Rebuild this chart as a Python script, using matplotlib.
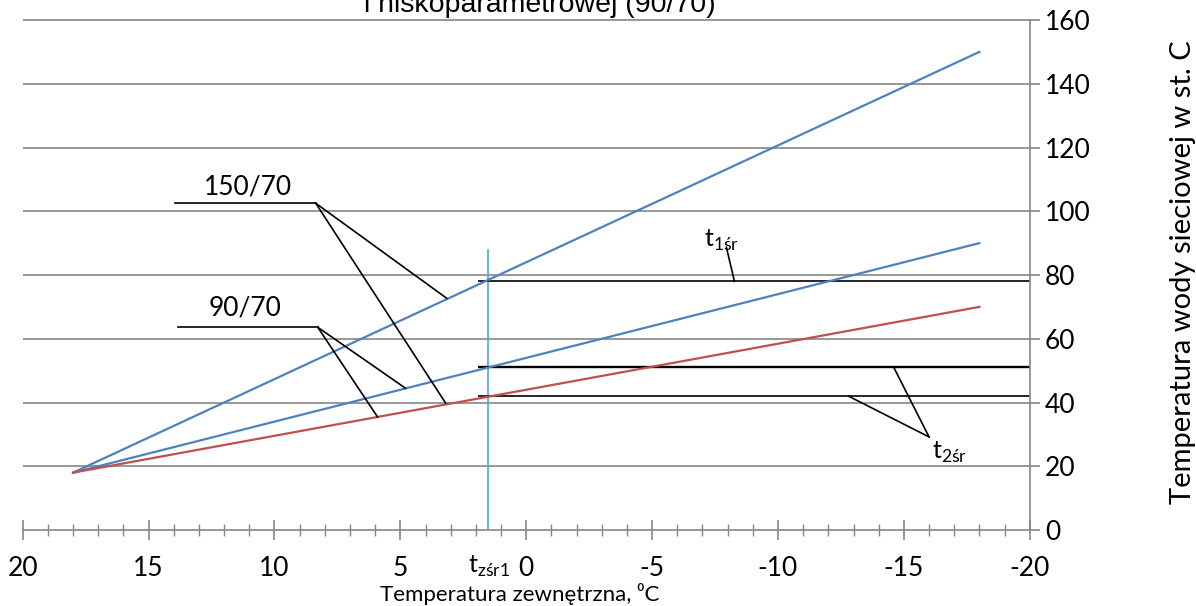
import matplotlib.pyplot as plt
from matplotlib.ticker import MultipleLocator

plt.rcParams['font.family'] = ['Lato', 'DejaVu Sans']
plt.rcParams['mathtext.fontset'] = 'custom'
plt.rcParams['mathtext.rm'] = 'Lato'

# outdoor temperature, network water temperatures
tz = [18, -18]
t_150 = [18, 150]
t_90 = [18, 90]
t_70 = [18, 70]

tz_sr1 = 1.5
tz_sr1_top = 88
t1_sr = 78
t2_sr = [51, 42]
h_start = 1.9

grid_y = [20, 40, 60, 80, 100, 120, 140, 160]

# label callouts: text position, leader knee, leader ends
lab_150 = (11.05, 107.5)
lead_150 = [(13.96, 102.5), (8.36, 102.5)]
ends_150 = [(3.16, 72.7), (3.2, 39.8)]
lab_90 = (11.17, 69.6)
lead_90 = [(13.84, 63.6), (8.28, 63.6)]
ends_90 = [(4.8, 44.5), (5.9, 35.4)]
lab_t1 = (-7.75, 90.9)
lead_t1 = [(-7.95, 88.7), (-8.27, 78)]
lab_t2 = (-16.8, 24.5)
knee_t2 = (-16.0, 29.2)
ends_t2 = [(-14.6, 51), (-12.8, 42)]

blue = '#4F81BD'
red = '#C0504D'
cyan = '#4BACC6'
gray = '#868686'

fig = plt.figure(figsize=(11.96, 6.06), dpi=100)
ax = fig.add_axes([0.019, 0.1254, 0.842, 0.8416])
ax.set_xlim(20, -20)
ax.set_ylim(0, 160)

ax.hlines(grid_y, 20, -20, color=gray, lw=1.2, clip_on=False, zorder=1)

ax.plot(tz, t_150, color=blue, lw=1.6, zorder=3)
ax.plot(tz, t_90, color=blue, lw=1.6, zorder=3)
ax.plot(tz, t_70, color=red, lw=1.6, zorder=3)

ax.plot([tz_sr1, tz_sr1], [0, tz_sr1_top], color=cyan, lw=1.2, zorder=2)
ax.hlines([t1_sr], h_start, -20, color='black', lw=1.2, zorder=2)
ax.hlines(t2_sr, h_start, -20, color='black', lw=[1.7, 1.2], zorder=2)

k = dict(color='black', lw=1.2, zorder=4)
ax.plot([p[0] for p in lead_150], [p[1] for p in lead_150], **k)
for e in ends_150:
    ax.plot([lead_150[1][0], e[0]], [lead_150[1][1], e[1]], **k)
ax.plot([p[0] for p in lead_90], [p[1] for p in lead_90], **k)
for e in ends_90:
    ax.plot([lead_90[1][0], e[0]], [lead_90[1][1], e[1]], **k)
ax.plot([p[0] for p in lead_t1], [p[1] for p in lead_t1], **k)
for e in ends_t2:
    ax.plot([knee_t2[0], e[0]], [knee_t2[1], e[1]], **k)

ax.text(*lab_150, '150/70', fontsize=19, ha='center', va='center')
ax.text(*lab_90, '90/70', fontsize=19, ha='center', va='center')
ax.text(*lab_t1, r'$\mathrm{t}_{\mathrm{1śr}}$', fontsize=18, ha='center', va='center')
ax.text(*lab_t2, r'$\mathrm{t}_{\mathrm{2śr}}$', fontsize=18, ha='center', va='center')

for s in ['left', 'top']:
    ax.spines[s].set_visible(False)
for s in ['bottom', 'right']:
    ax.spines[s].set_color(gray)
    ax.spines[s].set_linewidth(1.2)

ax.xaxis.set_major_locator(MultipleLocator(5))
ax.xaxis.set_minor_locator(MultipleLocator(1))
ax.tick_params(axis='x', which='major', direction='inout', length=14, width=1.2,
               color=gray, labelsize=19, pad=12)
ax.tick_params(axis='x', which='minor', direction='inout', length=8, width=1.0, color=gray)
ax.set_xticks([-20, -15, -10, -5, 0, 5, 10, 15, 20])
ax.set_xticklabels(['-20', '-15', '-10', '-5', '0', '5', '10', '15', '20'])

ax.yaxis.tick_right()
ax.set_yticks([0, 20, 40, 60, 80, 100, 120, 140, 160])
ax.tick_params(axis='y', direction='out', length=7, width=1.2, color=gray,
               labelsize=19, pad=4)

ax.text(tz_sr1, -11.5, r'$\mathrm{t}_{\mathrm{zśr1}}$', fontsize=18, ha='center', va='center')

fig.text(520 / 1196, 1 - 594 / 606, 'Temperatura zewnętrzna, ⁰C', fontsize=16,
         ha='center', va='center')
fig.text(1183 / 1196, 1 - 272 / 606, 'Temperatura wody sieciowej w st. C', fontsize=21,
         rotation=90, ha='center', va='center')
fig.text(540 / 1196, 1 - 12 / 606, 'i niskoparametrowej (90/70)', fontsize=20.5,
         family=['Liberation Sans', 'DejaVu Sans'], ha='center', va='baseline')

fig.savefig('out.png', dpi=100)
